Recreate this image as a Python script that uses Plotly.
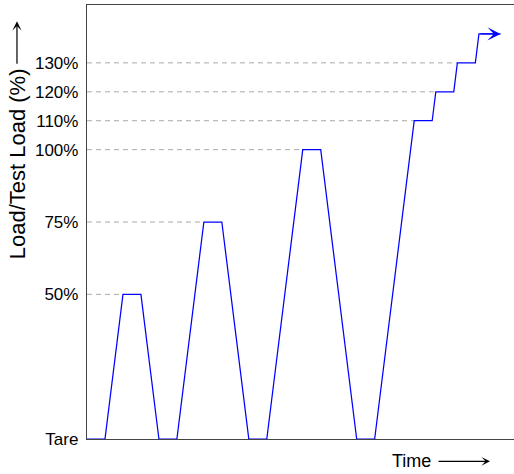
import plotly.graph_objects as go

# ---- data ----
time = [0, 1, 2, 3, 4, 5, 6.5, 7.5, 9, 10, 12, 13, 15, 16, 18.2, 19.2, 19.4, 20.4, 20.6, 21.6, 21.8, 23]
load = [0, 0, 50, 50, 0, 0, 75, 75, 0, 0, 100, 100, 0, 0, 110, 110, 120, 120, 130, 130, 140, 140]
ref_levels = [50, 75, 100, 110, 120, 130]
tick_vals = [0, 50, 75, 100, 110, 120, 130]
tick_text = ["Tare", "50%", "75%", "100%", "110%", "120%", "130%"]
y_title = "Load/Test Load (%)"
x_title = "Time"

FONT = "Liberation Sans, Arial, sans-serif"

fig = go.Figure()

# dashed reference lines from the axis to where the load first reaches each level
for lvl in ref_levels:
    t_end = time[load.index(lvl)]
    fig.add_trace(go.Scatter(
        x=[0, t_end], y=[lvl, lvl], mode="lines",
        line=dict(color="#aaaaaa", width=1, dash="5px,4px"),
        hoverinfo="skip", showlegend=False))

# load profile
fig.add_trace(go.Scatter(
    x=time, y=load, mode="lines",
    line=dict(color="#0000ff", width=1.25),
    showlegend=False))

# arrowhead at the end of the profile
fig.add_annotation(
    x=time[-1], y=load[-1], ax=time[-2], ay=load[-2],
    xref="x", yref="y", axref="x", ayref="y",
    text="", showarrow=True, arrowhead=3, arrowsize=1.75, arrowwidth=1.25,
    arrowcolor="#0000ff", standoff=0)

# y axis title and arrow
fig.add_annotation(
    x=0, y=0.633, xref="paper", yref="paper", xshift=-70,
    text=y_title, textangle=-90, showarrow=False,
    xanchor="center", yanchor="middle",
    font=dict(family=FONT, size=22, color="black"))
fig.add_annotation(
    x=-0.164, y=0.9625, xref="paper", yref="paper",
    ax=0, ay=44, text="", showarrow=True, arrowhead=3,
    arrowsize=1.3, arrowwidth=1.2, arrowcolor="black", standoff=0)

# x axis title and arrow
fig.add_annotation(
    x=0.761, y=-0.0514, xref="paper", yref="paper",
    text=x_title, showarrow=False, xanchor="center", yanchor="middle",
    font=dict(family=FONT, size=18, color="black"))
fig.add_annotation(
    x=0.9438, y=-0.0514, xref="paper", yref="paper",
    ax=-53, ay=0, text="", showarrow=True, arrowhead=3,
    arrowsize=1.2, arrowwidth=1.2, arrowcolor="black", standoff=0)

fig.update_layout(
    width=514, height=474,
    margin=dict(l=87, r=0, t=5, b=35),
    plot_bgcolor="white", paper_bgcolor="white",
    font=dict(family=FONT, size=17, color="black"),
    xaxis=dict(range=[0, 23.75], showgrid=False, zeroline=False,
               showticklabels=False, ticks="", showline=True, mirror=True,
               linecolor="#444444", linewidth=1.3, layer="below traces"),
    yaxis=dict(range=[0, 150], showgrid=False, zeroline=False,
               tickvals=tick_vals, ticktext=tick_text, ticks="",
               ticklabelstandoff=4,
               showline=True, linecolor="#444444", linewidth=1.3,
               layer="below traces", tickfont=dict(size=17, color="black")),
)

fig.write_html("out.html",
               config={"displayModeBar": False},
               post_script="document.body.style.margin='0';document.body.style.overflow='hidden';")
